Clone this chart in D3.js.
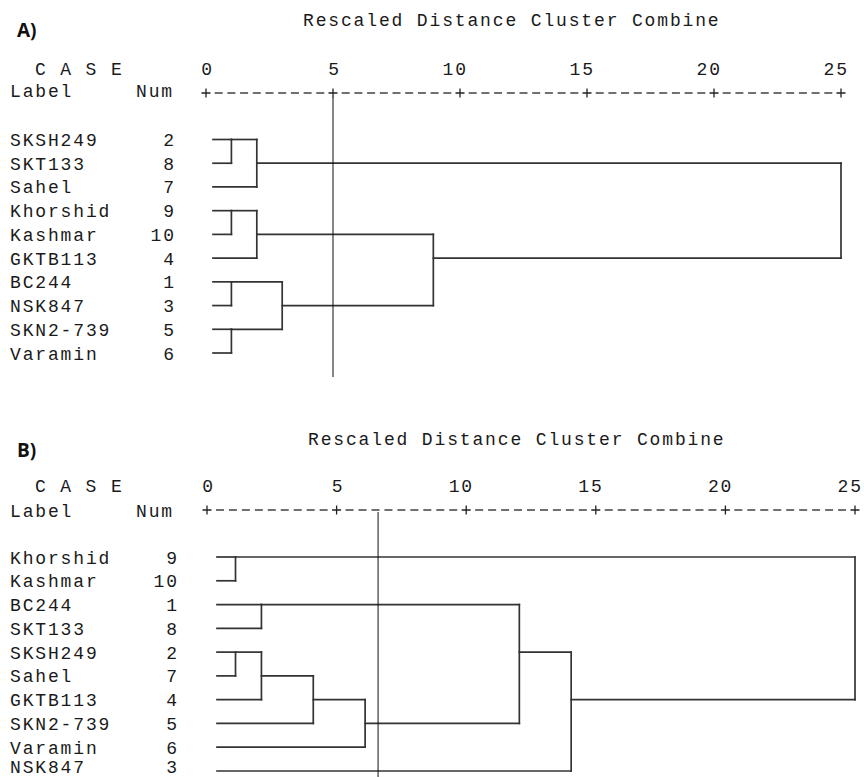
<!DOCTYPE html>
<html>
<head>
<meta charset="utf-8">
<script src="https://cdn.jsdelivr.net/npm/d3@7"></script>
<style>
    body { margin: 0; background: #fff; }
    svg { display: block; }
    .mono { font-family: "Liberation Mono", monospace; font-size: 18px; letter-spacing: 1.85px; fill: #1a1a1a; }
    .panel-tag { font-family: "Open Sans", "Liberation Sans", sans-serif; font-weight: 700; font-size: 19px; fill: #111; }
</style>
</head>
<body>
<div id="chart"></div>
<script>
// Panel A: cases in the order they appear, and their case numbers
const LABELS_A = ["SKSH249", "SKT133", "Sahel", "Khorshid", "Kashmar", "GKTB113", "BC244", "NSK847", "SKN2-739", "Varamin"];
const NUMS_A = [2, 8, 7, 9, 10, 4, 1, 3, 5, 6];
// merges: [cluster a, cluster b, rescaled distance]; leaves are 0..9, merge k creates cluster 10 + k
const MERGES_A = [
    [0, 1, 1.0],
    [3, 4, 1.0],
    [6, 7, 1.0],
    [8, 9, 1.0],
    [10, 2, 2.0],
    [11, 5, 2.0],
    [12, 13, 3.0],
    [15, 16, 8.95],
    [14, 17, 25]
];
const CUT_A = 5.0;

// Panel B
const LABELS_B = ["Khorshid", "Kashmar", "BC244", "SKT133", "SKSH249", "Sahel", "GKTB113", "SKN2-739", "Varamin", "NSK847"];
const NUMS_B = [9, 10, 1, 8, 2, 7, 4, 5, 6, 3];
const MERGES_B = [
    [0, 1, 1.1],
    [4, 5, 1.1],
    [2, 3, 2.1],
    [11, 6, 2.1],
    [13, 7, 4.1],
    [14, 8, 6.1],
    [12, 15, 12.05],
    [16, 9, 14.05],
    [10, 17, 25]
];
const CUT_B = 6.6;

const TITLE = "Rescaled Distance Cluster Combine";
const DOMAIN = [0, 25];

const WIDTH = 864;
const HEIGHT = 777;
const CHAR_W = 12.65;   // advance of one monospace character incl. letter spacing
const LINE_COLOR = "#333";

const svg = d3.select("#chart")
    .append("svg")
    .attr("width", WIDTH)
    .attr("height", HEIGHT);

function drawPanel(cfg) {
    const g = svg.append("g");
    const x = d3.scaleLinear().domain(DOMAIN).range([cfg.x0, cfg.x25]);
    const y = d3.scaleLinear().domain([0, cfg.labels.length - 1]).range([cfg.yFirst, cfg.yLast]);
    // text baseline for a row, kept inside the picture
    const baseline = i => Math.min(y(i) + 6.5, HEIGHT - 4);

    // panel tag and header texts
    g.append("text").attr("class", "panel-tag")
        .attr("x", cfg.tagX).attr("y", cfg.tagY).text(cfg.tag);
    g.append("text").attr("class", "mono")
        .attr("x", cfg.titleX).attr("y", cfg.titleY).text(TITLE);
    g.append("text").attr("class", "mono")
        .attr("x", 35).attr("y", cfg.tickY).text("C A S E");
    g.append("text").attr("class", "mono")
        .attr("x", 10).attr("y", cfg.axisTextY).text("Label");
    g.append("text").attr("class", "mono")
        .attr("x", 136).attr("y", cfg.axisTextY).text("Num");

    // axis: numbers with the last digit centred on the tick, "+" marks and dashes between
    const ticks = x.ticks(5);
    g.selectAll(".tick-label")
        .data(ticks)
        .enter().append("text")
        .attr("class", "mono tick-label")
        .attr("x", d => x(d) - (String(d).length - 0.5) * CHAR_W + 1.5)
        .attr("y", cfg.tickY)
        .text(d => d);

    const dashes = [];
    for (let i = 0; i < ticks.length - 1; i++) {
        const a = x(ticks[i]), b = x(ticks[i + 1]);
        for (let k = 1; k <= 9; k++) {
            dashes.push(a + (b - a) * k / 10);
        }
    }
    g.selectAll(".dash")
        .data(dashes)
        .enter().append("line")
        .attr("x1", d => d - 4).attr("x2", d => d + 4)
        .attr("y1", cfg.axisY).attr("y2", cfg.axisY)
        .attr("stroke", "#222").attr("stroke-width", 1.3);
    g.selectAll(".plus")
        .data(ticks)
        .enter().append("path")
        .attr("d", d => `M${x(d) - 4.5},${cfg.axisY}H${x(d) + 4.5}M${x(d)},${cfg.axisY - 4.5}V${cfg.axisY + 4.5}`)
        .attr("stroke", "#222").attr("stroke-width", 1.3)
        .attr("fill", "none");

    // case labels and numbers
    g.selectAll(".case-label")
        .data(cfg.labels)
        .enter().append("text")
        .attr("class", "mono")
        .attr("x", 10)
        .attr("y", (d, i) => baseline(i))
        .text(d => d);
    g.selectAll(".case-num")
        .data(cfg.nums)
        .enter().append("text")
        .attr("class", "mono")
        .attr("x", d => cfg.numRight - String(d).length * CHAR_W + 1.85)
        .attr("y", (d, i) => baseline(i))
        .text(d => d);

    // build the dendrogram: each cluster has a row and the x where it starts
    const n = cfg.labels.length;
    const row = d3.range(n);
    const startX = d3.range(n).map(() => cfg.x0 + cfg.leafOffset);
    const segments = [];
    cfg.merges.forEach(m => {
        const [a, b, h] = m;
        const xm = x(h);
        // horizontal lines from the children up to this merge
        segments.push([startX[a], y(row[a]), xm, y(row[a])]);
        segments.push([startX[b], y(row[b]), xm, y(row[b])]);
        // vertical joining line
        segments.push([xm, y(Math.min(row[a], row[b])), xm, y(Math.max(row[a], row[b]))]);
        row.push(Math.floor((row[a] + row[b]) / 2));
        startX.push(xm);
    });

    g.selectAll(".link")
        .data(segments)
        .enter().append("line")
        .attr("x1", d => d[0]).attr("y1", d => d[1])
        .attr("x2", d => d[2]).attr("y2", d => d[3])
        .attr("stroke", LINE_COLOR)
        .attr("stroke-width", 1.7)
        .attr("stroke-linecap", "square");

    // cut-off reference line
    g.append("line")
        .attr("x1", x(cfg.cut)).attr("x2", x(cfg.cut))
        .attr("y1", cfg.cutTop).attr("y2", cfg.cutBottom)
        .attr("stroke", "#111")
        .attr("stroke-width", 1);
}

drawPanel({
    tag: "A)", tagX: 17, tagY: 37,
    titleX: 303, titleY: 26,
    tickY: 75, axisY: 93, axisTextY: 97,
    x0: 206, x25: 841,
    yFirst: 139.5, yLast: 353,
    numRight: 174, leafOffset: 7,
    labels: LABELS_A, nums: NUMS_A, merges: MERGES_A,
    cut: CUT_A, cutTop: 97, cutBottom: 377
});

drawPanel({
    tag: "B)", tagX: 17, tagY: 457,
    titleX: 308, titleY: 445,
    tickY: 492, axisY: 510, axisTextY: 517,
    x0: 207, x25: 855,
    yFirst: 557, yLast: 771,
    numRight: 177, leafOffset: 10,
    labels: LABELS_B, nums: NUMS_B, merges: MERGES_B,
    cut: CUT_B, cutTop: 512, cutBottom: 777
});
</script>
</body>
</html>
